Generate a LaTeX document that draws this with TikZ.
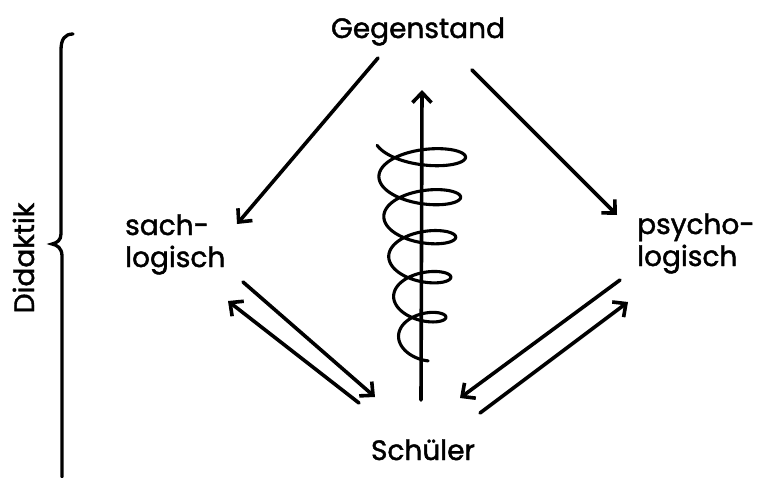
\documentclass[tikz,border=0pt]{standalone}
\usepackage{fontspec}
\setmainfont{Poppins}
\newfontfamily\lblfont[FakeBold=1.5]{Poppins}
\usetikzlibrary{arrows.meta}
\begin{document}
\begin{tikzpicture}[x=1pt,y=-1pt,
  lbl/.style={inner sep=0pt,font=\lblfont\fontsize{28}{32}\selectfont},
  conn/.style={line width=3.6pt,line cap=round},
  arr/.style={conn,-{Straight Barb[length=10pt,width=19pt,line width=3.6pt]}}]
\useasboundingbox (0,0) rectangle (760,477);
% labels
\node[lbl,anchor=base] (geg) at (418,38) {Gegenstand};
\node[lbl,anchor=base] (sch) at (423,460) {Schüler};
\node[lbl,anchor=base west,align=left] (sach) at (125,267) {sach-\\logisch};
\node[lbl,anchor=base west,align=left] (psy) at (637,266) {psycho-\\logisch};
\node[lbl,anchor=base,rotate=90] (did) at (34,258) {Didaktik};
% coordinates
\coordinate (g1) at (378,58);  \coordinate (s1) at (237,224);
\coordinate (g2) at (472,70);  \coordinate (p1) at (617,215);
\coordinate (ax0) at (421,400); \coordinate (ax1) at (422,90);
\coordinate (la) at (243,282); \coordinate (lb) at (375,397);
\coordinate (lc) at (359,403); \coordinate (ld) at (228,301);
\coordinate (ra) at (620,280); \coordinate (rb) at (460,398);
\coordinate (rc) at (480,413); \coordinate (rd) at (628,302);
% arrows
\draw[arr] (g1) -- (s1);
\draw[arr] (g2) -- (p1);
\draw[arr] (ax0) -- (ax1);
\draw[arr] (la) -- (lb);
\draw[arr] (lc) -- (ld);
\draw[arr] (ra) -- (rb);
\draw[arr] (rc) -- (rd);
% spiral
\draw[conn,line width=3.1pt] plot[domain=200:2090,samples=500,smooth,variable=\t]
  ({421+(47-(\t-180)/73.333)*cos(\t)},
   {157+(\t-360)/9-(8+0.21*(47-(\t-180)/73.333))*sin(\t)});
% brace
\draw[line width=3.3pt,line cap=round]
  (73,34) .. controls (65,34) and (61,39) .. (61,50) -- (61,234)
  .. controls (61,240) and (57,243) .. (52,244)
  .. controls (57,245) and (62,248) .. (62,256) -- (62,477);
\end{tikzpicture}
\end{document}
